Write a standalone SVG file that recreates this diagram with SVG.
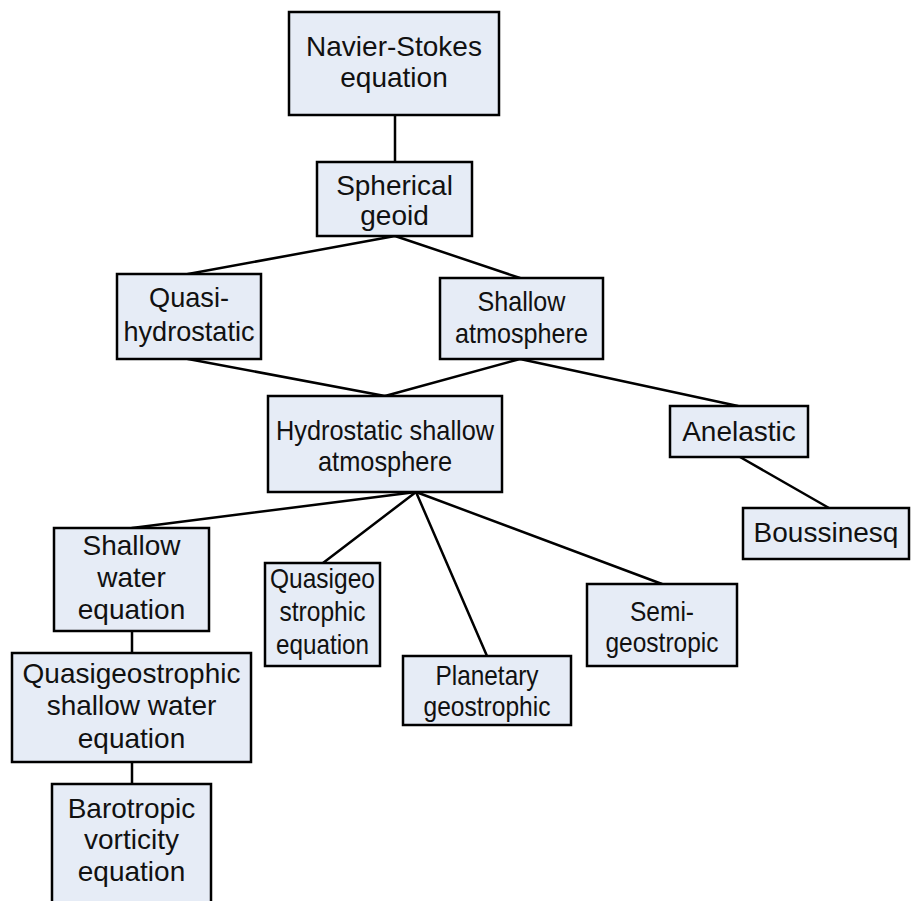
<svg xmlns="http://www.w3.org/2000/svg" width="911" height="901" viewBox="0 0 911 901">
<style>
.box rect{fill:#e6ecf6;stroke:#000;stroke-width:2.5}
.box text{font-family:"Liberation Sans",Arial,sans-serif;fill:#111;text-anchor:middle;font-size:28px}
.edges line{stroke:#000;stroke-width:2.5;stroke-linecap:round}
</style>
<rect width="911" height="901" fill="#fff"/>
<g class="edges" id="connectors">
<line x1="395" y1="115" x2="395" y2="162"/>
<line x1="395" y1="236" x2="188" y2="274"/>
<line x1="395" y1="236" x2="520" y2="278"/>
<line x1="188" y1="359" x2="385" y2="396"/>
<line x1="520" y1="359" x2="385" y2="396"/>
<line x1="520" y1="359" x2="738" y2="406"/>
<line x1="740" y1="457" x2="829" y2="508"/>
<line x1="416" y1="492" x2="132" y2="528"/>
<line x1="416" y1="492" x2="323" y2="563"/>
<line x1="416" y1="492" x2="487" y2="656"/>
<line x1="416" y1="492" x2="662" y2="584"/>
<line x1="132" y1="631" x2="132" y2="653"/>
<line x1="132" y1="762" x2="132" y2="784"/>
</g>
<g class="box" id="navier-stokes">
<rect x="289" y="12" width="210" height="103"/>
<text x="394" y="56">Navier-Stokes</text>
<text x="394" y="87">equation</text>
</g>
<g class="box" id="spherical-geoid">
<rect x="317" y="162" width="155" height="74"/>
<text x="394.5" y="195">Spherical</text>
<text x="394.5" y="225">geoid</text>
</g>
<g class="box" id="quasi-hydrostatic">
<rect x="117" y="274" width="144" height="85"/>
<text x="189" y="307" textLength="80" lengthAdjust="spacingAndGlyphs">Quasi-</text>
<text x="189" y="341" textLength="131" lengthAdjust="spacingAndGlyphs">hydrostatic</text>
</g>
<g class="box" id="shallow-atmosphere">
<rect x="440" y="278" width="163" height="81"/>
<text x="521.5" y="311" textLength="88" lengthAdjust="spacingAndGlyphs">Shallow</text>
<text x="521.5" y="343" textLength="133" lengthAdjust="spacingAndGlyphs">atmosphere</text>
</g>
<g class="box" id="hydrostatic-shallow">
<rect x="268" y="396" width="234" height="96"/>
<text x="385" y="440" textLength="218" lengthAdjust="spacingAndGlyphs">Hydrostatic shallow</text>
<text x="385" y="471" textLength="134" lengthAdjust="spacingAndGlyphs">atmosphere</text>
</g>
<g class="box" id="anelastic">
<rect x="670" y="406" width="138" height="51"/>
<text x="739" y="441">Anelastic</text>
</g>
<g class="box" id="boussinesq">
<rect x="743" y="508" width="166" height="51"/>
<text x="826" y="542">Boussinesq</text>
</g>
<g class="box" id="shallow-water">
<rect x="54" y="528" width="155" height="103"/>
<text x="131.5" y="555">Shallow</text>
<text x="131.5" y="587">water</text>
<text x="131.5" y="619">equation</text>
</g>
<g class="box" id="qg-shallow-water">
<rect x="12" y="653" width="239" height="109"/>
<text x="131.5" y="683">Quasigeostrophic</text>
<text x="131.5" y="715">shallow water</text>
<text x="131.5" y="748">equation</text>
</g>
<g class="box" id="barotropic">
<rect x="52" y="784" width="159" height="120"/>
<text x="131.5" y="818">Barotropic</text>
<text x="131.5" y="849">vorticity</text>
<text x="131.5" y="881">equation</text>
</g>
<g class="box" id="quasigeostrophic">
<rect x="265" y="563" width="115" height="103"/>
<text x="322.5" y="588" textLength="105" lengthAdjust="spacingAndGlyphs">Quasigeo</text>
<text x="322.5" y="621" textLength="86" lengthAdjust="spacingAndGlyphs">strophic</text>
<text x="322.5" y="654" textLength="93" lengthAdjust="spacingAndGlyphs">equation</text>
</g>
<g class="box" id="planetary-geostrophic">
<rect x="403" y="656" width="168" height="69"/>
<text x="487" y="685" textLength="103" lengthAdjust="spacingAndGlyphs">Planetary</text>
<text x="487" y="716" textLength="127" lengthAdjust="spacingAndGlyphs">geostrophic</text>
</g>
<g class="box" id="semi-geostropic">
<rect x="587" y="584" width="150" height="82"/>
<text x="662" y="621" textLength="64" lengthAdjust="spacingAndGlyphs">Semi-</text>
<text x="662" y="652" textLength="113" lengthAdjust="spacingAndGlyphs">geostropic</text>
</g>
</svg>
